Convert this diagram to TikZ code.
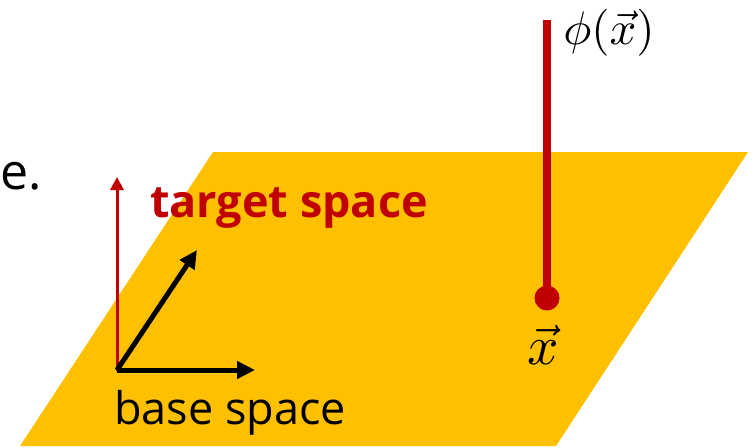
\documentclass[tikz,border=0pt]{standalone}
\usepackage{fontspec}
\setmainfont{Open Sans}
\usetikzlibrary{arrows.meta}
\definecolor{gold}{HTML}{FFC000}
\definecolor{darkred}{HTML}{C00000}
\tikzset{
  axisblack/.style={line width=5pt,-{Triangle[length=18pt,width=17pt]}},
  axisred/.style={darkred,line width=3pt,-{Triangle[length=13pt,width=13pt]}},
  lbl/.style={inner sep=0pt,anchor=base west},
}
\begin{document}
\begin{tikzpicture}[x=1pt,y=-1pt]
\useasboundingbox (0,0) rectangle (754,447);
% plane
\fill[gold] (213,152) -- (748,152) -- (556,446) -- (20,446) -- cycle;
% partial text at left
\node[lbl,font=\fontsize{50}{56}\selectfont] (cut) at (0,189) {e.};
% axes
\coordinate (o) at (117,370);
\coordinate (up) at (117,177);
\coordinate (diag) at (197,250);
\coordinate (right) at (255,370);
\draw[axisred] (117,371) -- (up);
\draw[axisblack] (o) -- (diag);
\draw[axisblack] (o) -- (right);
\node[lbl,font=\fontsize{45}{50}\selectfont\bfseries,text=darkred] (target) at (150,217) {target space};
\node[lbl,font=\fontsize{45}{50}\selectfont] (base) at (114,424) {base space};
% field value
\node[circle,fill=darkred,inner sep=0pt,minimum size=25pt] (dot) at (547,298) {};
\coordinate (top) at (547,20);
\draw[darkred,line width=8pt] (top) -- (dot.center);
\node[scale=4.7,inner sep=0pt] (phi) at (609,33) {$\phi(\vec{x})$};
\node[scale=5.5,inner sep=0pt] (x) at (543,345) {$\vec{x}$};
\end{tikzpicture}
\end{document}
